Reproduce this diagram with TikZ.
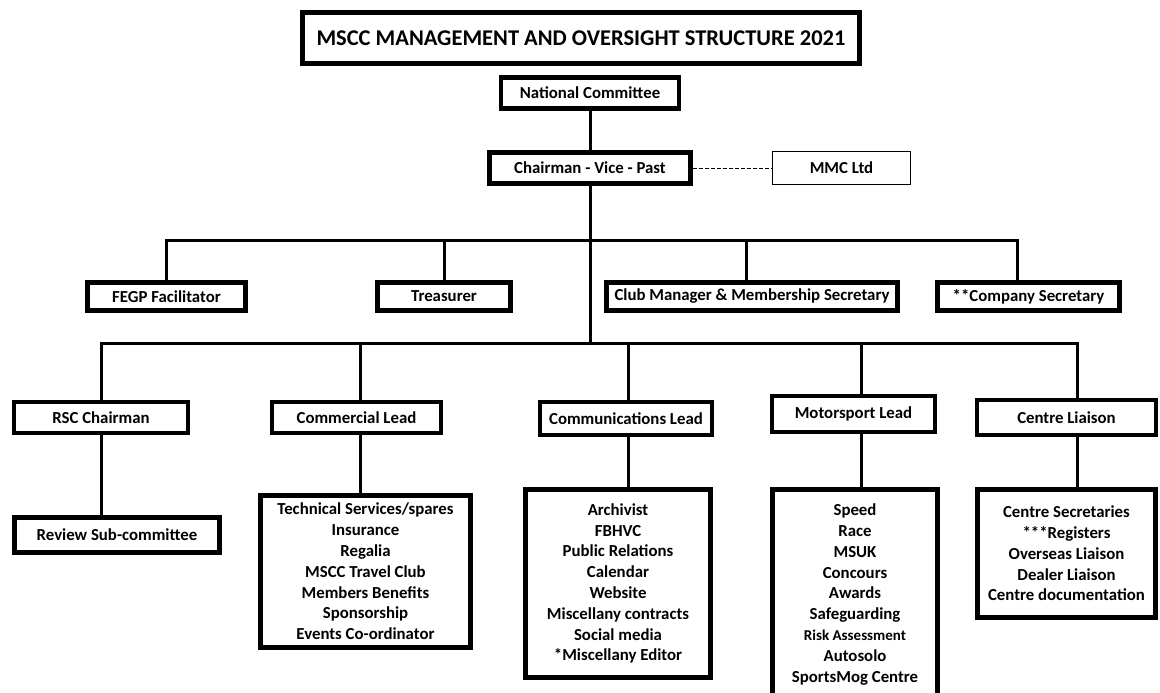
\documentclass[tikz,border=0pt]{standalone}
\usepackage{fontspec}
\setmainfont{Carlito}
\usetikzlibrary{positioning}

\begin{document}
\begin{tikzpicture}[
    x=1pt, y=-1pt,
    box/.style={draw, line width=4.5pt, inner sep=2pt, align=center,
                minimum height=31pt,
                font=\fontsize{16.8}{20.8}\selectfont\bfseries},
    listbox/.style={box, line width=5pt},
    plainbox/.style={box, line width=1.2pt, minimum height=33pt},
    titlebox/.style={box, line width=5pt, minimum height=51pt,
                     font=\fontsize{22.5}{26}\selectfont\bfseries},
    link/.style={line width=3pt},
    dashlink/.style={line width=0.9pt, dash pattern=on 4pt off 2pt},
  ]

  % page frame
  \useasboundingbox (0,0) rectangle (1160,693);
  \fill[white] (0,0) rectangle (1160,693);
  \clip (0,0) rectangle (1160,693);

  % -- Top: title, committee, chairman --
  \node[titlebox, minimum width=557pt] at (581, 38) (title)
    {MSCC MANAGEMENT AND OVERSIGHT STRUCTURE 2021};
  \node[box, minimum width=178pt] at (590, 93) (natcom)
    {National Committee};
  \node[box, line width=5pt, minimum width=201pt] at (590, 168) (chair)
    {Chairman - Vice - Past};
  \node[plainbox, minimum width=138pt] at (841.5, 168) (mmc)
    {MMC Ltd};

  % -- Row 1: officers --
  \node[box, line width=5pt, minimum width=158pt, minimum height=28pt]
    at (166.5, 296.5) (fegp) {FEGP Facilitator};
  \node[box, line width=5pt, minimum width=133pt, minimum height=28pt]
    at (444, 296.5) (treasurer) {Treasurer};
  \node[box, line width=5pt, minimum width=291pt, minimum height=28pt]
    at (752, 296.5) (clubman) {Club Manager \& Membership Secretary};
  \node[box, line width=5pt, minimum width=182pt, minimum height=28pt]
    at (1028.5, 296.5) (cosec) {**Company Secretary};

  % -- Row 2: leads --
  \node[box, minimum width=174pt] at (101, 417.5) (rsc) {RSC Chairman};
  \node[box, minimum width=169pt] at (356.5, 417.5) (commercial)
    {Commercial Lead};
  \node[box, minimum width=172pt, minimum height=33pt] at (626, 418.5)
    (comms) {Communications Lead};
  \node[box, minimum width=163pt, minimum height=36pt] at (853.5, 414)
    (motorsport) {Motorsport Lead};
  \node[box, minimum width=179pt, minimum height=35pt] at (1066.5, 417.5)
    (centre) {Centre Liaison};

  % -- Row 3: portfolios --
  \node[listbox, minimum width=205pt, minimum height=35pt] at (117, 535)
    (review) {Review Sub-committee};
  \node[listbox, minimum width=210pt, minimum height=152pt]
    at (365.5, 571.5) (commlist)
    {Technical Services/spares\\Insurance\\Regalia\\MSCC Travel Club\\
     Members Benefits\\Sponsorship\\Events Co-ordinator};
  \node[listbox, minimum width=185pt, minimum height=188pt]
    at (618, 583.5) (commslist)
    {Archivist\\FBHVC\\Public Relations\\Calendar\\Website\\
     Miscellany contracts\\Social media\\*Miscellany Editor};
  \node[listbox, minimum width=165pt, minimum height=210pt]
    at (855, 594.5) (motorlist)
    {Speed\\Race\\MSUK\\Concours\\Awards\\Safeguarding\\
     {\fontsize{15}{20.8}\selectfont Risk Assessment}\\Autosolo\\
     SportsMog Centre};
  \node[listbox, minimum width=178pt, minimum height=128pt]
    at (1066.5, 553.5) (centrelist)
    {Centre Secretaries\\***Registers\\Overseas Liaison\\Dealer Liaison\\
     Centre documentation};

  % bar levels
  \coordinate (upbar) at (585, 240);
  \coordinate (lowbar) at (585, 343);

  % -- Connectors --
  \draw[link] (natcom) -- (chair);
  \draw[dashlink] (chair.east) -- (mmc.west);
  \draw[link] (chair.south) -- (chair.south |- lowbar);

  % upper bar to officers
  \draw[link] (fegp.north) -- (fegp.north |- upbar)
    -- ([xshift=-11pt]cosec.north |- upbar) -- ([xshift=-11pt]cosec.north);
  \draw[link] (treasurer.north) -- (treasurer.north |- upbar);
  \draw[link] ([xshift=-6pt]clubman.north) -- ([xshift=-6pt]clubman.north |- upbar);

  % lower bar to leads
  \draw[link] (rsc.north) -- (rsc.north |- lowbar)
    -- ([xshift=11pt]centre.north |- lowbar) -- ([xshift=11pt]centre.north);
  \foreach \lead/\dx in {commercial/4, comms/2, motorsport/8}
    \draw[link] ([xshift=\dx pt]\lead.north)
      -- ([xshift=\dx pt]\lead.north |- lowbar);

  % leads to portfolios
  \draw[link] (rsc.south) -- (rsc.south |- review.north);
  \foreach \lead/\port/\dx in {commercial/commlist/4, comms/commslist/2,
                               motorsport/motorlist/8, centre/centrelist/11}
    \draw[link] ([xshift=\dx pt]\lead.south)
      -- ([xshift=\dx pt]\lead.south |- \port.north);

\end{tikzpicture}
\end{document}
